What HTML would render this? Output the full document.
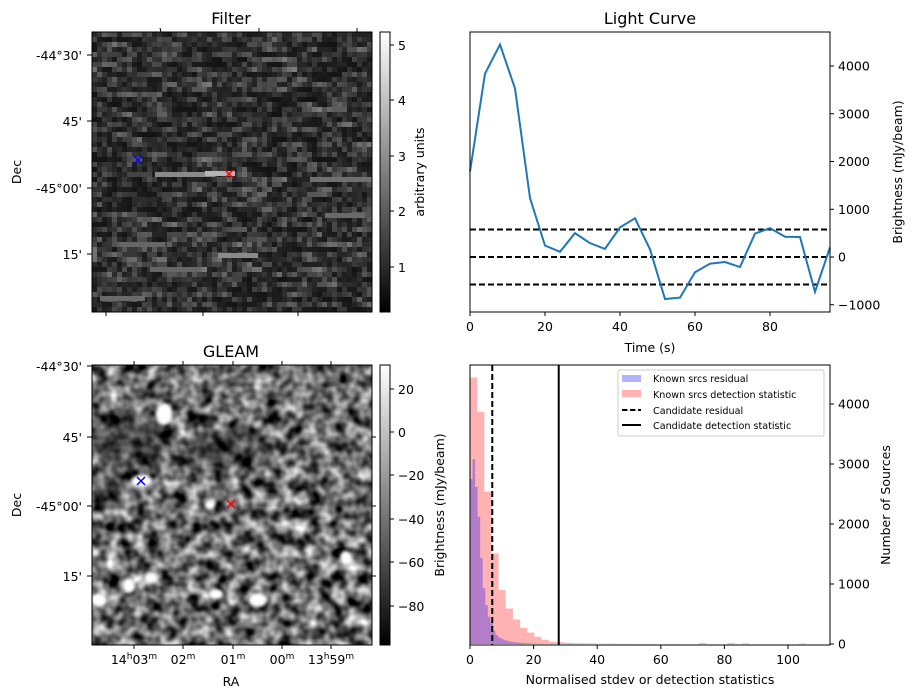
<!DOCTYPE html>
<html><head><meta charset="utf-8"><style>
html,body{margin:0;padding:0;background:#fff;}
svg{display:block;font-family:"DejaVu Sans","Liberation Sans",sans-serif;}
</style></head><body>
<svg id="fig" width="915" height="699" viewBox="0 0 915 699">
<defs>
<linearGradient id="cbar" x1="0" y1="1" x2="0" y2="0"><stop offset="0" stop-color="#000"/><stop offset="1" stop-color="#fff"/></linearGradient>
<clipPath id="clipG"><rect x="92" y="365" width="280" height="280"/></clipPath>
<clipPath id="clipF"><rect x="92" y="32" width="280" height="280"/></clipPath>
<filter id="turb" x="0" y="0" width="100%" height="100%" color-interpolation-filters="sRGB">
<feTurbulence type="fractalNoise" baseFrequency="0.075" numOctaves="2" seed="7"/>
<feColorMatrix type="matrix" values="1 0 0 0 0 1 0 0 0 0 1 0 0 0 0 0 0 0 0 1"/>
<feComponentTransfer><feFuncR type="linear" slope="1.6" intercept="-0.37"/><feFuncG type="linear" slope="1.6" intercept="-0.37"/><feFuncB type="linear" slope="1.6" intercept="-0.37"/><feFuncA type="linear" slope="0" intercept="1"/></feComponentTransfer>
</filter>
<filter id="blur1" color-interpolation-filters="sRGB"><feGaussianBlur stdDeviation="1.5"/></filter>
<filter id="blur6" color-interpolation-filters="sRGB"><feGaussianBlur stdDeviation="8"/></filter>
</defs>

<!-- Filter panel -->
<g>
<text x="231" y="24" font-size="16" text-anchor="middle">Filter</text>
<g id="filterImg" clip-path="url(#clipF)"></g>
<rect x="92" y="32" width="280" height="280" fill="none" stroke="#000"/>
<g font-size="12.5" text-anchor="end">
<text x="82" y="60">-44°30'</text><line x1="87" y1="55" x2="92" y2="55" stroke="#000"/>
<text x="82" y="126">45'</text><line x1="87" y1="121" x2="92" y2="121" stroke="#000"/>
<text x="82" y="193">-45°00'</text><line x1="87" y1="188" x2="92" y2="188" stroke="#000"/>
<text x="82" y="259">15'</text><line x1="87" y1="254" x2="92" y2="254" stroke="#000"/>
</g>
<g stroke="#000">
<line x1="160" y1="28" x2="161" y2="32"/><line x1="259" y1="28" x2="259" y2="32"/><line x1="357" y1="28" x2="357" y2="32"/>
<line x1="106" y1="312" x2="106" y2="316"/><line x1="203" y1="312" x2="203" y2="316"/><line x1="298" y1="312" x2="298" y2="316"/>
</g>
<text transform="translate(21,172) rotate(-90)" font-size="12.5" text-anchor="middle">Dec</text>
<g stroke-width="1.5">
<path d="M134,156 l8,8 M142,156 l-8,8" stroke="#0000ff"/>
<path d="M225,170 l8,8 M233,170 l-8,8" stroke="#ff0000"/>
</g>
<rect x="380" y="32" width="10" height="280" fill="url(#cbar)" stroke="#000"/>
<g font-size="12.5">
<line x1="390" y1="45" x2="394" y2="45" stroke="#000"/><text x="398" y="50">5</text>
<line x1="390" y1="100" x2="394" y2="100" stroke="#000"/><text x="398" y="105">4</text>
<line x1="390" y1="156" x2="394" y2="156" stroke="#000"/><text x="398" y="161">3</text>
<line x1="390" y1="211" x2="394" y2="211" stroke="#000"/><text x="398" y="216">2</text>
<line x1="390" y1="267" x2="394" y2="267" stroke="#000"/><text x="398" y="272">1</text>
</g>
<text transform="translate(424,172) rotate(-90)" font-size="12.5" text-anchor="middle">arbitrary units</text>
</g>

<!-- GLEAM panel -->
<g>
<text x="231" y="357" font-size="16" text-anchor="middle">GLEAM</text>
<g clip-path="url(#clipG)">
<rect x="92" y="365" width="280" height="280" fill="#777"/>
<rect x="92" y="365" width="280" height="280" filter="url(#turb)"/>
<g fill="#000" opacity="0.4" filter="url(#blur6)">
<ellipse cx="130" cy="440" rx="40" ry="30"/><ellipse cx="110" cy="490" rx="20" ry="15"/><ellipse cx="230" cy="450" rx="45" ry="20"/>
</g>
<g fill="#fff" filter="url(#blur1)">
<ellipse cx="164" cy="414" rx="8" ry="11"/><ellipse cx="142" cy="481" rx="10" ry="6"/><ellipse cx="210" cy="505" rx="5" ry="4"/>
<ellipse cx="129" cy="586" rx="6" ry="7"/><ellipse cx="151" cy="578" rx="6" ry="5"/><ellipse cx="99" cy="600" rx="8" ry="7"/>
<ellipse cx="216" cy="594" rx="7" ry="5"/><ellipse cx="258" cy="600" rx="9" ry="7"/><ellipse cx="346" cy="558" rx="6" ry="7"/>
</g>
</g>
<rect x="92" y="365" width="280" height="280" fill="none" stroke="#000"/>
<g font-size="12.5" text-anchor="end">
<text x="82" y="371">-44°30'</text><line x1="87" y1="366" x2="92" y2="366" stroke="#000"/>
<text x="82" y="442">45'</text><line x1="87" y1="437" x2="92" y2="437" stroke="#000"/>
<text x="82" y="511">-45°00'</text><line x1="87" y1="506" x2="92" y2="506" stroke="#000"/>
<text x="82" y="581">15'</text><line x1="87" y1="576" x2="92" y2="576" stroke="#000"/>
</g>
<g stroke="#000">
<line x1="134" y1="645" x2="134" y2="649"/><line x1="183" y1="645" x2="183" y2="649"/><line x1="233" y1="645" x2="233" y2="649"/><line x1="282" y1="645" x2="282" y2="649"/><line x1="331" y1="645" x2="331" y2="649"/>
<line x1="134" y1="361" x2="134" y2="365"/><line x1="183" y1="361" x2="183" y2="365"/><line x1="233" y1="361" x2="233" y2="365"/><line x1="282" y1="361" x2="282" y2="365"/><line x1="331" y1="361" x2="331" y2="365"/>
<line x1="372" y1="437" x2="376" y2="437"/><line x1="372" y1="506" x2="376" y2="506"/><line x1="372" y1="576" x2="376" y2="576"/>
</g>
<g font-size="12.5" text-anchor="middle">
<text x="134" y="664">14<tspan font-size="9" dy="-5">h</tspan><tspan dy="5">03</tspan><tspan font-size="9" dy="-5">m</tspan></text>
<text x="183" y="664">02<tspan font-size="9" dy="-5">m</tspan></text>
<text x="233" y="664">01<tspan font-size="9" dy="-5">m</tspan></text>
<text x="282" y="664">00<tspan font-size="9" dy="-5">m</tspan></text>
<text x="331" y="664">13<tspan font-size="9" dy="-5">h</tspan><tspan dy="5">59</tspan><tspan font-size="9" dy="-5">m</tspan></text>
</g>
<text x="231" y="686" font-size="12.5" text-anchor="middle">RA</text>
<text transform="translate(21,505) rotate(-90)" font-size="12.5" text-anchor="middle">Dec</text>
<g stroke-width="1.5">
<path d="M137,477 l8,8 M145,477 l-8,8" stroke="#0000ff"/>
<path d="M227,500 l8,8 M235,500 l-8,8" stroke="#ff0000"/>
</g>
<rect x="380" y="365" width="10" height="280" fill="url(#cbar)" stroke="#000"/>
<g font-size="12.5">
<line x1="390" y1="389" x2="394" y2="389" stroke="#000"/><text x="398" y="394">20</text>
<line x1="390" y1="432" x2="394" y2="432" stroke="#000"/><text x="398" y="437">0</text>
<line x1="390" y1="475" x2="394" y2="475" stroke="#000"/><text x="398" y="480">−20</text>
<line x1="390" y1="519" x2="394" y2="519" stroke="#000"/><text x="398" y="524">−40</text>
<line x1="390" y1="562" x2="394" y2="562" stroke="#000"/><text x="398" y="567">−60</text>
<line x1="390" y1="606" x2="394" y2="606" stroke="#000"/><text x="398" y="611">−80</text>
</g>
<text transform="translate(444,505) rotate(-90)" font-size="12.5" text-anchor="middle">Brightness (mJy/beam)</text>
</g>

<!-- Light curve -->
<g>
<text x="650" y="24" font-size="16" text-anchor="middle">Light Curve</text>
<g id="lcMarks"></g>
<rect x="470" y="32" width="360" height="280" fill="none" stroke="#000"/>
<g id="lcAxes" font-size="12.5"></g>
<text x="650" y="352" font-size="12.5" text-anchor="middle">Time (s)</text>
<text transform="translate(902,172) rotate(-90)" font-size="12.5" text-anchor="middle">Brightness (mJy/beam)</text>
</g>

<!-- Histogram -->
<g>
<g id="hMarks"></g>
<rect x="470" y="365" width="360" height="280" fill="none" stroke="#000"/>
<g id="hAxes" font-size="12.5"></g>
<text x="650" y="684" font-size="12.5" text-anchor="middle">Normalised stdev or detection statistics</text>
<text transform="translate(890,505) rotate(-90)" font-size="12.5" text-anchor="middle">Number of Sources</text>
<g>
<rect x="618" y="370" width="206" height="66" rx="2" fill="#fff" fill-opacity="0.8" stroke="#ccc"/>
<g font-size="9.6">
<rect x="622" y="375" width="19" height="7" fill="#0000ff" fill-opacity="0.3"/><text x="653" y="382">Known srcs residual</text>
<rect x="622" y="390" width="19" height="7" fill="#ff0000" fill-opacity="0.3"/><text x="653" y="398">Known srcs detection statistic</text>
<line x1="622" y1="410" x2="641" y2="410" stroke="#000" stroke-width="2" stroke-dasharray="5.5,2.5"/><text x="653" y="414">Candidate residual</text>
<line x1="622" y1="425" x2="641" y2="425" stroke="#000" stroke-width="2"/><text x="653" y="429">Candidate detection statistic</text>
</g>
</g>
</g>
</svg>
<script>
// ---- Light curve data ----
const lcTimes = [0,4,8,12,16,20,24,28,32,36,40,44,48,52,56,60,64,68,72,76,80,84,88,92,96];
const lcValues = [1790,3840,4450,3530,1235,240,110,500,290,170,620,810,160,-880,-850,-320,-140,-105,-210,490,605,425,420,-730,200];
const lcThresholds = [575,0,-575];
const lcXTicks = [0,20,40,60,80];
const lcYTicks = [-1000,0,1000,2000,3000,4000];
// ---- Histogram data ----
const resBinWidth = 0.8;
const resCounts = [2750,3080,2620,2120,1430,930,650,455,350,220,150,110,90,70,55,45,35,30,25,20,15,12,10,8,6,5,4,3,3,2];
const detBinWidth = 2.25;
const detCounts = [4440,3870,2540,1510,900,590,410,270,190,120,70,40,30,22,15,12,10,8,6,5,4,3,3,2,2,2,2,2,2,2,0,0,15,0,0,0,15,0,12,0,0,0,0,0,0,0,10,0];
const candResidual = 7.0;
const candDetection = 27.9;
const hXTicks = [0,20,40,60,80,100];
const hYTicks = [0,1000,2000,3000,4000];

const NS="http://www.w3.org/2000/svg";
function mk(tag,attrs,parent){const e=document.createElementNS(NS,tag);for(const k in attrs)e.setAttribute(k,attrs[k]);parent.appendChild(e);return e;}

// Filter image texture (seeded, decorative)
(function(){
  const g=document.getElementById('filterImg');
  let s=12345;function rnd(){s=(s*1103515245+12345)%2147483648;return s/2147483648;}
  const n=56,cw=5,ch=5;
  for(let r=0;r<n;r++){
    let prev=rnd();
    for(let c=0;c<n;c++){
      let v=0.55*rnd()+0.45*prev;prev=v;
      let b=Math.pow(v,2.2)*0.5+0.07;
      const gv=Math.round(Math.min(1,b)*255);
      mk('rect',{x:92+c*cw,y:32+r*ch,width:cw+0.3,height:ch+0.3,fill:`rgb(${gv},${gv},${gv})`},g);
    }
  }
  const streaks=[[155,172,60,'#8a8a8a'],[205,171,30,'#b5b5b5'],[310,177,62,'#707070'],[218,253,40,'#8a8a8a'],[325,213,40,'#6a6a6a'],[150,267,50,'#666'],[100,296,45,'#6a6a6a'],[120,242,45,'#666']];
  streaks.forEach(st=>mk('rect',{x:st[0],y:st[1],width:st[2],height:5,fill:st[3]},g));
})();

// Light curve
(function(){
  const xs=t=>470+t*3.75, ys=v=>257-v*0.04775;
  const m=document.getElementById('lcMarks'), a=document.getElementById('lcAxes');
  lcThresholds.forEach(v=>{
    const l=mk('line',{x1:470,x2:830,y1:ys(v),y2:ys(v),stroke:'#000','stroke-width':2,'stroke-dasharray':'6,3'},m);
    
    
  });
  const p=mk('polyline',{points:lcTimes.map((t,i)=>xs(t)+','+ys(lcValues[i])).join(' '),fill:'none',stroke:'#1f77b4','stroke-width':2},m);
  
  
  lcXTicks.forEach(t=>{
    mk('line',{x1:xs(t),x2:xs(t),y1:312,y2:316,stroke:'#000'},a);
    const tx=mk('text',{x:xs(t),y:331,'text-anchor':'middle'},a);tx.textContent=t;
    
    
  });
  lcYTicks.forEach(v=>{
    mk('line',{x1:830,x2:834,y1:ys(v),y2:ys(v),stroke:'#000'},a);
    const tx=mk('text',{x:838,y:ys(v)+4.5},a);tx.textContent=String(v).replace('-','−');
    
    
  });
})();

// Histogram
(function(){
  const xs=v=>470+v*3.18, ys=c=>644-c*0.06;
  const m=document.getElementById('hMarks'), a=document.getElementById('hAxes');
  detCounts.forEach((c,i)=>{ if(c<=0)return;
    const x0=xs(i*detBinWidth),x1=Math.min(830,xs((i+1)*detBinWidth));
    const r=mk('rect',{x:x0,y:ys(c),width:x1-x0,height:644-ys(c),fill:'#ff0000','fill-opacity':0.3},m);
    
    
  });
  resCounts.forEach((c,i)=>{ if(c<=0)return;
    const x0=xs(i*resBinWidth),x1=xs((i+1)*resBinWidth);
    const r=mk('rect',{x:x0,y:ys(c),width:x1-x0,height:644-ys(c),fill:'#0000ff','fill-opacity':0.3},m);
    
    
  });
  const l1=mk('line',{x1:xs(candResidual),x2:xs(candResidual),y1:365,y2:645,stroke:'#000','stroke-width':2,'stroke-dasharray':'6,3'},m);
  
  
  const l2=mk('line',{x1:xs(candDetection),x2:xs(candDetection),y1:365,y2:645,stroke:'#000','stroke-width':2},m);
  
  
  hXTicks.forEach(t=>{
    mk('line',{x1:xs(t),x2:xs(t),y1:645,y2:649,stroke:'#000'},a);
    const tx=mk('text',{x:xs(t),y:664,'text-anchor':'middle'},a);tx.textContent=t;
    
    
  });
  hYTicks.forEach(v=>{
    mk('line',{x1:830,x2:834,y1:ys(v),y2:ys(v),stroke:'#000'},a);
    const tx=mk('text',{x:838,y:ys(v)+4.5},a);tx.textContent=v;
    
    
  });
})();
</script>
</body></html>
